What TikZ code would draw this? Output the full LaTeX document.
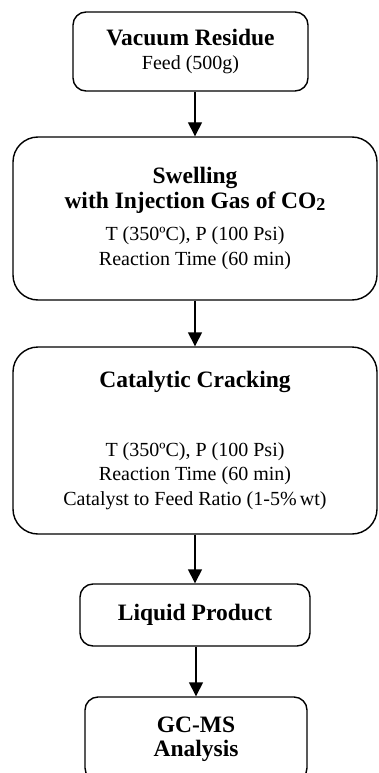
\documentclass[tikz,border=0pt]{standalone}
\usepackage{fontspec}
\setmainfont{Liberation Serif}
\usetikzlibrary{arrows.meta}
\newcommand{\stage}[1]{{\bfseries\fontsize{23.5}{25}\selectfont #1}}
\newcommand{\lowtwo}{\raisebox{-0.2ex}{\fontsize{18}{18}\selectfont 2}}

\begin{document}
\begin{tikzpicture}
		[x=1pt,y=-1pt,
		box/.style={draw,line width=1.4pt,rounded corners=13pt,align=center,inner sep=0pt,
			font=\fontsize{20}{24.5}\selectfont},
		big/.style={box,rounded corners=25pt,minimum width=364pt},
		flow/.style={line width=1.4pt,-{Triangle[width=14pt,length=14pt]}}]
		\useasboundingbox (0,0) rectangle (378,773);
		\node[box,minimum width=235pt,minimum height=79pt] (vr) at (190.5,51.5)
			{\stage{Vacuum Residue}\\Feed (500g)};
		\node[big,minimum height=163pt] (sw) at (195,218.5)
			{\stage{Swelling}\\\stage{with Injection Gas of CO\lowtwo}\\[8pt]
			T (350ºC), P (100 Psi)\\Reaction Time (60 min)};
		\node[big,minimum height=187pt] (cc) at (195,440.5)
			{\stage{Catalytic Cracking}\\[44pt]
			T (350ºC), P (100 Psi)\\Reaction Time (60 min)\\Catalyst to Feed Ratio (1-5\%\,wt)};
		\node[box,minimum width=230pt,minimum height=62pt] (lp) at (195,615) {\stage{Liquid Product}};
		\node[box,minimum width=222pt,minimum height=84pt] (gc) at (196,739) {\stage{GC-MS}\\\stage{Analysis}};
		
		\foreach \from/\to in {vr/sw,sw/cc,cc/lp,lp/gc}
		\draw[flow] (\from.south -| \to.north) -- (\to.north);
		\end{tikzpicture}
\end{document}
